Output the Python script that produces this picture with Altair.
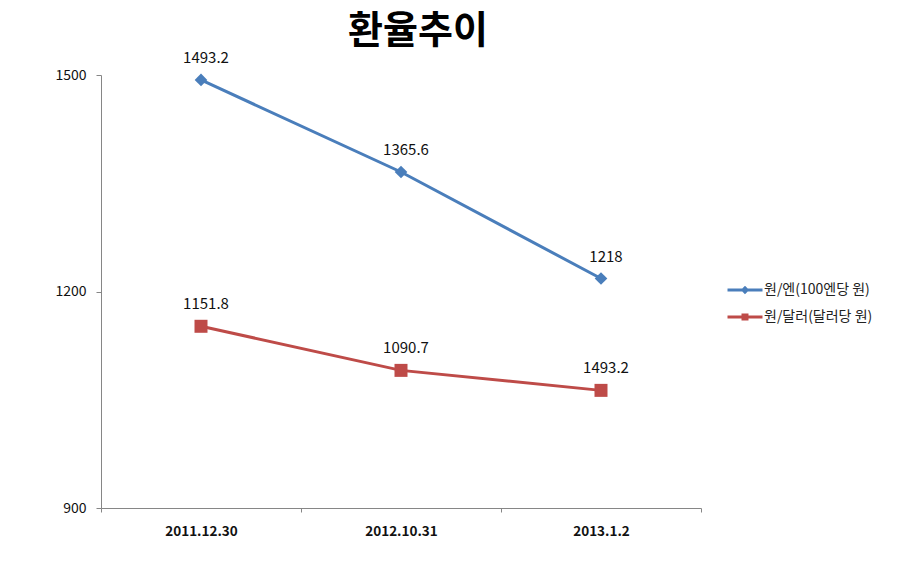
import altair as alt
import pandas as pd

dates = ["2011.12.30", "2012.10.31", "2013.1.2"]
series_names = ["원/엔(100엔당 원)", "원/달러(달러당 원)"]
yen_values = [1493.2, 1365.6, 1218.0]
dollar_values = [1151.8, 1090.7, 1063.0]
yen_labels = ["1493.2", "1365.6", "1218"]
dollar_labels = ["1151.8", "1090.7", "1493.2"]
y_ticks = [900, 1200, 1500]

BLUE = "#4A7EBB"
RED = "#BE4B48"
FONT = "Noto Sans CJK KR"

rows = []
for d, v, l in zip(dates, yen_values, yen_labels):
    rows.append({"date": d, "series": series_names[0], "value": v, "label": l})
for d, v, l in zip(dates, dollar_values, dollar_labels):
    rows.append({"date": d, "series": series_names[1], "value": v, "label": l})
df = pd.DataFrame(rows)

x_enc = alt.X(
    "date:N",
    sort=dates,
    bandPosition=0.5,
    scale=alt.Scale(type="band", domain=dates, paddingInner=0, paddingOuter=0),
    axis=alt.Axis(
        title=None,
        labelAngle=0,
        tickBand="extent",
        tickSize=4,
        labelPadding=12,
        labelFont=FONT,
        labelFontSize=13.5,
        labelFontWeight="bold",
        labelColor="#111111",
        domainColor="#868686",
        tickColor="#868686",
        grid=False,
    ),
)
y_enc = alt.Y(
    "value:Q",
    scale=alt.Scale(domain=[900, 1500], nice=False, zero=False),
    axis=alt.Axis(
        title=None,
        values=y_ticks,
        format="d",
        tickSize=5,
        labelPadding=10,
        labelFont=FONT,
        labelFontSize=14,
        labelColor="#111111",
        domainColor="#868686",
        tickColor="#868686",
        grid=False,
    ),
)
color_scale = alt.Scale(domain=series_names, range=[BLUE, RED])

base = alt.Chart(df)
yen = base.transform_filter(alt.datum.series == series_names[0])
usd = base.transform_filter(alt.datum.series == series_names[1])

line_yen = yen.mark_line(strokeWidth=3, color=BLUE).encode(x=x_enc, y=y_enc)
line_usd = usd.mark_line(strokeWidth=3, color=RED).encode(x=x_enc, y=y_enc)

pts_yen = yen.mark_point(
    shape="diamond", size=160, filled=True, opacity=1, color=BLUE
).encode(x=x_enc, y=y_enc)

pts_usd = usd.mark_point(
    shape="square", size=169, filled=True, opacity=1, color=RED
).encode(x=x_enc, y=y_enc)

labels = base.mark_text(
    font=FONT, fontSize=15, color="#111111", dy=-17, dx=5, baseline="alphabetic"
).encode(x=x_enc, y=y_enc, text="label:N")

legend_paths = [
    "M-1.5,-0.13H1.5V0.13H-1.5Z M0,-0.36L0.36,0L0,0.36L-0.36,0Z",
    "M-1.5,-0.13H1.5V0.13H-1.5Z M-0.3,-0.3H0.3V0.3H-0.3Z",
]
legend_layer = base.transform_filter("false").mark_point(
    filled=True, size=544, opacity=1
).encode(
    x=x_enc, y=y_enc,
    color=alt.Color("series:N", scale=color_scale, sort=series_names,
                    legend=alt.Legend(title=None)),
    shape=alt.Shape("series:N", sort=series_names,
                    scale=alt.Scale(domain=series_names, range=legend_paths),
                    legend=alt.Legend(title=None)),
)

chart = alt.layer(line_yen, line_usd, pts_yen, pts_usd, labels, legend_layer).properties(
    width=600,
    height=433,
    padding={"left": 101, "top": 75, "right": 206, "bottom": 61},
    autosize=alt.AutoSizeParams(type="none"),
    background="white",
    title=alt.TitleParams(
        "환율추이",
        font=FONT,
        fontSize=38,
        fontWeight="bold",
        color="#000000",
        anchor="middle",
        frame="group",
        dx=17,
        dy=39,
        offset=9,
        baseline="alphabetic",
    ),
).configure_view(stroke=None).configure_legend(
    orient="none",
    legendX=632,
    legendY=203,
    padding=0,
    symbolSize=544,
    symbolOpacity=1,
    symbolStrokeWidth=0,
    labelOffset=7,
    rowPadding=8,
    labelFont=FONT,
    labelFontSize=14,
    labelColor="#222222",
)

chart.save("out.html", embed_options={"renderer": "svg", "actions": False})
